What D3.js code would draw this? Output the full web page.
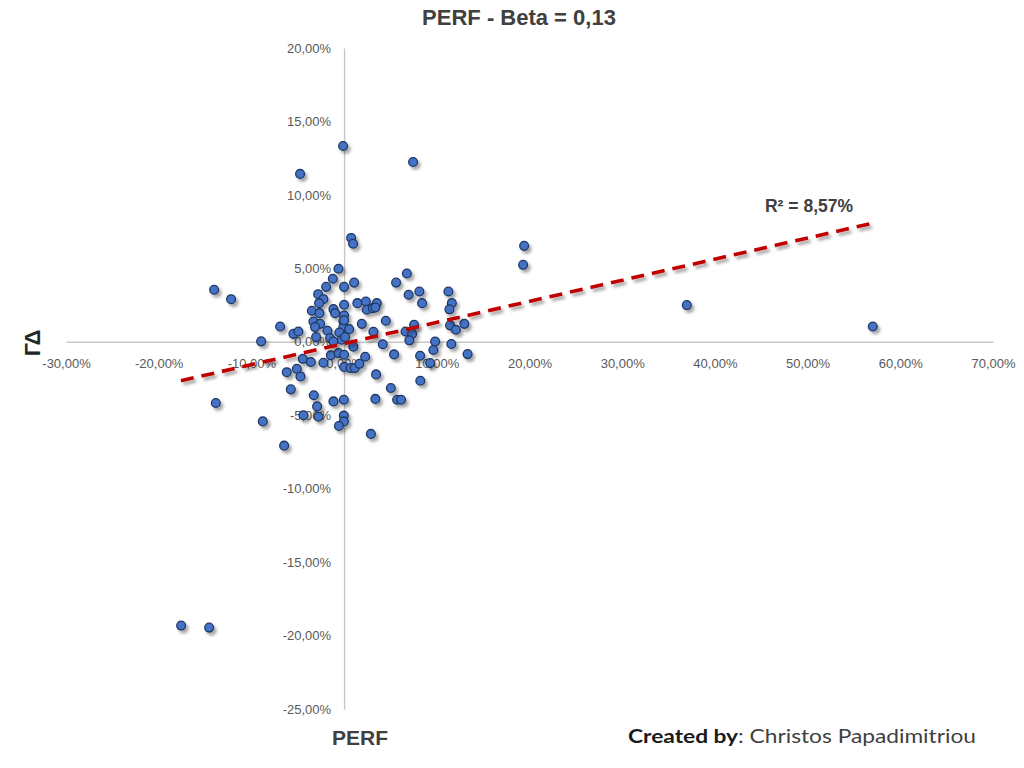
<!DOCTYPE html>
<html><head><meta charset="utf-8">
<script src="https://cdn.jsdelivr.net/npm/d3@7"></script>
<style>html,body{margin:0;padding:0;background:#fff;}svg{display:block;}</style>
</head><body>
<svg id="chart" width="1024" height="768"></svg>
<script>
// ---- data ----
const perf = [-0.11,7.44,-4.75,19.42,19.31,36.97,57.03,-14.02,-12.19,-13.84,-8.77,-6.47,-17.58,-14.56,
0.76,0.97,-0.61,-1.22,1.08,0,-1.94,-2.80,-2.23,-2.70,-3.48,-2.66,-1.15,-0.97,0,1.43,2.34,2.45,3.10,3.53,3.38,
0,-3.31,-2.59,-3.13,-1.80,-0.08,-0.08,0.54,-0.51,-6.90,-5.47,-4.93,-8.95,-3.02,-1.51,-1.15,-0.25,0.11,1.00,
1.91,4.50,3.16,4.17,5.61,6.77,6.96,8.12,8.41,11.25,11.62,11.36,7.55,6.63,7.34,7.04,9.82,9.63,11.43,12.06,12.97,
11.57,13.32,5.39,8.20,9.28,8.22,3.45,5.04,5.72,6.15,3.37,-0.03,-1.15,-3.27,-2.91,-2.77,-4.39,-0.03,-0.03,-0.56,
2.89,-5.75,-6.18,-5.10,-4.71,-4.46,-3.59,-2.23,-1.43,-0.59,0,0,0.70,1.15,1.65,2.27,0];
const gd = [13.33,12.24,11.43,6.53,5.24,2.50,1.04,3.54,2.90,-4.17,-5.42,-7.07,-19.32,-19.46,
7.07,6.67,4.97,4.29,4.03,3.74,3.74,3.24,2.90,2.63,2.11,1.95,2.22,1.95,2.52,2.63,2.74,2.18,2.29,2.63,2.33,
1.79,1.38,1.22,1.00,0.75,1.38,1.00,0.86,0.63,1.04,0.54,0.70,0.03,0.32,0.25,0.02,0.14,0.32,-0.34,
1.22,1.43,0.68,-0.17,4.03,4.65,3.20,3.42,2.63,3.42,2.63,2.21,1.16,0.70,0.54,0.10,0.02,-0.56,1.12,0.82,1.22,
-0.15,-0.84,-0.86,-0.95,-1.45,-2.65,-2.22,-3.15,-3.95,-3.95,-3.89,-3.95,-4.06,-3.64,-4.40,-5.10,-5.00,-5.03,-5.42,-5.73,
-6.27,-3.24,-2.07,-1.84,-2.36,-1.16,-1.38,-1.43,-0.92,-0.77,-0.88,-1.71,-1.79,-1.79,-1.50,-1.02,1.46];
const xTicks = [-30,-20,-10,0,10,20,30,40,50,60,70];
const yTicks = [-25,-20,-15,-10,-5,0,5,10,15,20];
const trendX = [-17.6, 57.2];
const trendY = [-2.65, 8.1];
const titleText = "PERF - Beta = 0,13";
const r2Text = "R² = 8,57%";
const xTitle = "PERF";
const yTitle = "ΓΔ";

// ---- drawing ----
const svg = d3.select("#chart");
const x = d3.scaleLinear().domain([-30,70]).range([66,993]);
const y = d3.scaleLinear().domain([-25,20]).range([709,48]);
const fmt = v => d3.format(".2f")(v).replace(".", ",").replace("−","-") + "%";
const FONT = "'Liberation Sans', Arial, sans-serif";

const defs = svg.append("defs");
const f = defs.append("filter").attr("id","shadow").attr("x","-50%").attr("y","-50%").attr("width","200%").attr("height","200%");
f.append("feDropShadow").attr("dx",2.5).attr("dy",3).attr("stdDeviation",1.8)
  .attr("flood-color","#000").attr("flood-opacity",0.35);

// title
svg.append("text").attr("x",519).attr("y",25).attr("text-anchor","middle")
  .attr("font-family",FONT).attr("font-weight","bold").attr("font-size",22)
  .attr("fill","#404040").text(titleText);

// axes (crossing at zero)
const xAxis = d3.axisBottom(x).tickValues(xTicks).tickSize(0).tickPadding(0).tickFormat(fmt);
const gx = svg.append("g").attr("transform",`translate(0,${y(0)})`).call(xAxis);
gx.select(".domain").attr("stroke","#c8c8c8").attr("stroke-width",1.4);
gx.selectAll("text").attr("dy",null).attr("y",26)
  .attr("font-family",FONT).attr("font-size",13).attr("fill","#595959");

const yAxis = d3.axisLeft(y).tickValues(yTicks).tickSize(0).tickPadding(0).tickFormat(fmt);
const gy = svg.append("g").attr("transform",`translate(${x(0)},0)`).call(yAxis);
gy.select(".domain").attr("stroke","#c8c8c8").attr("stroke-width",1.4);
gy.selectAll("text").attr("x",-13)
  .attr("font-family",FONT).attr("font-size",13).attr("fill","#595959");

// points
const pts = perf.map((v,i)=>({x:v,y:gd[i]}));
svg.append("g").attr("filter","url(#shadow)").selectAll("circle").data(pts).join("circle")
  .attr("cx",d=>x(d.x)).attr("cy",d=>y(d.y)).attr("r",4.4)
  .attr("fill","#4472c4").attr("stroke","#1f3864").attr("stroke-width",1.3);

// trend line
svg.append("line").attr("filter","url(#shadow)")
  .attr("x1",x(trendX[0])).attr("y1",y(trendY[0])).attr("x2",x(trendX[1])).attr("y2",y(trendY[1]))
  .attr("stroke","#c00000").attr("stroke-width",3.6).attr("stroke-dasharray","13,8");

svg.append("text").attr("x",809).attr("y",212).attr("text-anchor","middle")
  .attr("font-family",FONT).attr("font-weight","bold").attr("font-size",17.5)
  .attr("fill","#404040").text(r2Text);

// axis titles
svg.append("text").attr("transform","translate(40,343) rotate(-90)").attr("text-anchor","middle")
  .attr("font-family",FONT).attr("font-weight","bold").attr("font-size",22)
  .attr("fill","#262626").text(yTitle);
svg.append("text").attr("x",360).attr("y",745).attr("text-anchor","middle")
  .attr("font-family",FONT).attr("font-weight","bold").attr("font-size",21)
  .attr("fill","#404040").text(xTitle);

// footer
const ft = svg.append("text").attr("x",628).attr("y",743)
  .attr("font-family","Lato, 'Liberation Sans', sans-serif").attr("font-size",19).attr("fill","#1a1a1a")
  .attr("textLength",348).attr("lengthAdjust","spacingAndGlyphs");
ft.append("tspan").attr("font-weight","bold").text("Created by");
ft.append("tspan").attr("fill","#404040").text(": Christos Papadimitriou");
</script>
</body></html>
